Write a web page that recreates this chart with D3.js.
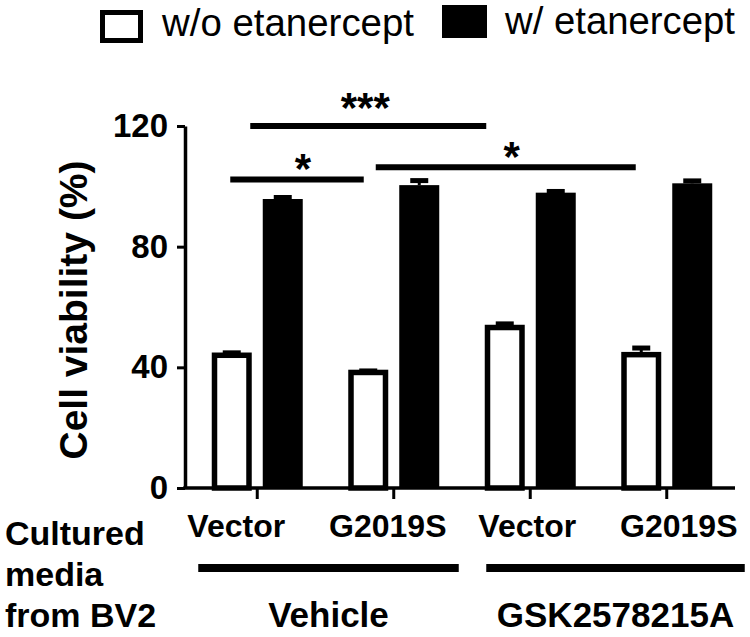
<!DOCTYPE html>
<html>
<head>
<meta charset="utf-8">
<script src="https://cdn.jsdelivr.net/npm/d3@7"></script>
<style>
  body { margin: 0; background: #fff; }
  text { font-family: "Liberation Sans", Arial, Helvetica, sans-serif; fill: #000; }
</style>
</head>
<body>
<div id="chart"></div>
<script>
// data
var groupIds = ["veh_vec", "veh_g2019s", "gsk_vec", "gsk_g2019s"];
var groupLabels = ["Vector", "G2019S", "Vector", "G2019S"];
var treatments = ["Vehicle", "GSK2578215A"];
var treatmentGroups = [[0, 1], [2, 3]];
var series = ["w/o etanercept", "w/ etanercept"];
var withoutVals = [44.0, 38.3, 53.2, 44.2];
var withoutErr = [0.8, 0.5, 1.2, 2.2];
var withVals = [95.8, 100.4, 97.9, 101.0];
var withErr = [0.5, 1.5, 0.4, 0.8];
var yTicks = [0, 40, 80, 120];
var sideLabel = ["Cultured", "media", "from BV2"];
var comparisons = [
  {a: 0, b: 2, level: 120, label: "***"},
  {a: 0, b: 1, level: 102.3, label: "*"},
  {a: 1, b: 3, level: 106.3, label: "*"}
];

var W = 750, H = 637;
var yAxisX = 185;

var svg = d3.select("#chart")
  .append("svg")
  .attr("width", W)
  .attr("height", H);

var x0 = d3.scaleBand()
  .domain(groupIds)
  .range([189, 735])
  .paddingInner(0)
  .paddingOuter(0);

var x1 = d3.scaleBand()
  .domain(series)
  .range([-45.5, 45.5])
  .paddingInner(0.2157);

var y = d3.scaleLinear()
  .domain([0, 120])
  .range([488, 126]);

function cx(i) { return x0(groupIds[i]) + x0.bandwidth() / 2; }

// legend
var legend = svg.append("g");
legend.append("rect")
  .attr("x", 102.5).attr("y", 12.5)
  .attr("width", 38).attr("height", 28)
  .attr("fill", "#fff").attr("stroke", "#000").attr("stroke-width", 5);
legend.append("text")
  .attr("x", 162).attr("y", 36)
  .attr("font-size", 38)
  .attr("textLength", 252).attr("lengthAdjust", "spacingAndGlyphs")
  .text(series[0]);
legend.append("rect")
  .attr("x", 442).attr("y", 5)
  .attr("width", 45).attr("height", 33)
  .attr("fill", "#000");
legend.append("text")
  .attr("x", 505).attr("y", 34)
  .attr("font-size", 38)
  .attr("textLength", 230).attr("lengthAdjust", "spacingAndGlyphs")
  .text(series[1]);

// y axis
var yAxis = svg.append("g")
  .attr("transform", "translate(" + yAxisX + ",0)")
  .call(d3.axisLeft(y).tickValues(yTicks).tickSize(8).tickSizeOuter(0).tickPadding(9));
yAxis.select(".domain").attr("stroke-width", 3.5);
yAxis.selectAll(".tick line").attr("stroke-width", 3);
yAxis.selectAll(".tick text")
  .attr("font-size", 33).attr("font-weight", "bold")
  .style("font-family", "'Liberation Sans', Arial, sans-serif");

svg.append("text")
  .attr("transform", "translate(87," + 310 + ") rotate(-90)")
  .attr("text-anchor", "middle")
  .attr("font-size", 39).attr("font-weight", "bold")
  .text("Cell viability (%)");

// bars
var bars = svg.append("g");
groupIds.forEach(function(id, i) {
  var g = bars.append("g").attr("transform", "translate(" + cx(i) + ",0)");
  var rows = [
    {s: series[0], v: withoutVals[i], e: withoutErr[i]},
    {s: series[1], v: withVals[i], e: withErr[i]}
  ];
  rows.forEach(function(d, k) {
    var bx = x1(d.s), bw = x1.bandwidth();
    var mid = bx + bw / 2;
    // error bar (upper)
    g.append("line")
      .attr("x1", mid).attr("x2", mid)
      .attr("y1", y(d.v)).attr("y2", y(d.v + d.e))
      .attr("stroke", "#000").attr("stroke-width", 3);
    g.append("line")
      .attr("x1", mid - 9).attr("x2", mid + 9)
      .attr("y1", y(d.v + d.e)).attr("y2", y(d.v + d.e))
      .attr("stroke", "#000").attr("stroke-width", 5);
    if (k == 0) {
      g.append("rect")
        .attr("x", bx + 2.75).attr("width", bw - 5.5)
        .attr("y", y(d.v)).attr("height", y(0) - y(d.v))
        .attr("fill", "#fff").attr("stroke", "#000").attr("stroke-width", 5.5);
    } else {
      g.append("rect")
        .attr("x", bx).attr("width", bw)
        .attr("y", y(d.v)).attr("height", y(0) - y(d.v))
        .attr("fill", "#000");
    }
  });
});

// x axis
var labelNudge = [-21, -6, -3, 12];
var xAxis = svg.append("g")
  .attr("transform", "translate(0," + y(0) + ")")
  .call(d3.axisBottom(x0).tickSize(11).tickSizeOuter(0).tickPadding(15)
    .tickFormat(function(d, i) { return groupLabels[i]; }));
xAxis.select(".domain").attr("d", "M" + (yAxisX - 1.75) + ",0H735").attr("stroke-width", 3.5);
xAxis.selectAll(".tick line").attr("stroke-width", 3);
xAxis.selectAll(".tick text")
  .attr("font-size", 32).attr("font-weight", "bold")
  .attr("dx", function(d, i) { return labelNudge[i]; })
  .style("font-family", "'Liberation Sans', Arial, sans-serif");

// significance lines
var sigOffsets = [[-7, -44], [-27, -30], [-18, -31]];
var sig = svg.append("g");
comparisons.forEach(function(c, i) {
  var xa = cx(c.a) + sigOffsets[i][0];
  var xb = cx(c.b) + sigOffsets[i][1];
  var yy = y(c.level);
  sig.append("line")
    .attr("x1", xa).attr("x2", xb).attr("y1", yy).attr("y2", yy)
    .attr("stroke", "#000").attr("stroke-width", 6);
  sig.append("text")
    .attr("x", (xa + xb) / 2 + (c.label.length > 1 ? -3 : 6))
    .attr("y", yy + (c.label.length > 1 ? -4 : 4))
    .attr("text-anchor", "middle")
    .attr("font-size", 42).attr("font-weight", "bold")
    .text(c.label);
});

// bottom group labels
var groupLineExt = [[-59, 65], [-44, 78]];
treatments.forEach(function(t, i) {
  var xa = cx(treatmentGroups[i][0]) + groupLineExt[i][0];
  var xb = cx(treatmentGroups[i][1]) + groupLineExt[i][1];
  svg.append("line")
    .attr("x1", xa).attr("x2", xb).attr("y1", 568).attr("y2", 568)
    .attr("stroke", "#000").attr("stroke-width", 8);
  svg.append("text")
    .attr("x", (xa + xb) / 2).attr("y", 627)
    .attr("text-anchor", "middle")
    .attr("font-size", 35).attr("font-weight", "bold")
    .text(t);
});

svg.append("g").selectAll("text")
  .data(sideLabel)
  .enter()
  .append("text")
  .attr("x", 5)
  .attr("y", function(d, i) { return 545 + i * 41; })
  .attr("font-size", 34).attr("font-weight", "bold")
  .text(function(d) { return d; });
</script>
</body>
</html>
